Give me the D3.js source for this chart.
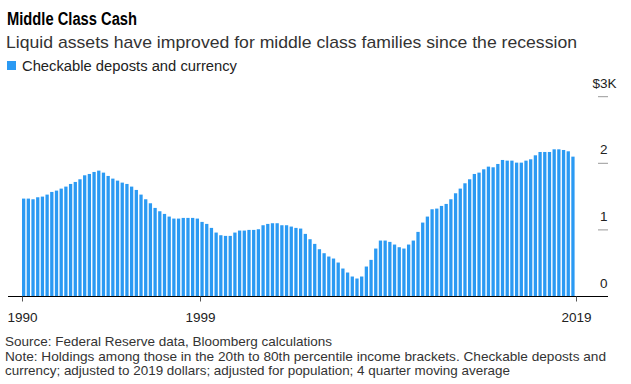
<!DOCTYPE html>
<html><head><meta charset="utf-8">
<script src="https://cdn.jsdelivr.net/npm/d3@7"></script>
<style>
html,body{margin:0;padding:0;background:#fff;}
svg{display:block;font-family:"Liberation Sans",Arial,Helvetica,sans-serif;}
</style></head>
<body><svg id="c" width="631" height="384"></svg>
<script>
// ---- data ----
const startYear = 1990, startQuarter = 1;
const values = [
1.47,1.47,1.46,1.49,1.50,1.53,1.57,1.59,1.62,1.65,1.69,1.72,1.76,1.82,1.84,1.87,1.89,1.86,1.81,1.77,
1.74,1.71,1.69,1.65,1.60,1.53,1.46,1.40,1.33,1.28,1.24,1.20,1.17,1.17,1.18,1.18,1.18,1.17,1.12,1.09,
1.03,0.96,0.92,0.91,0.91,0.96,0.99,0.99,1.00,1.00,1.01,1.07,1.09,1.10,1.10,1.07,1.07,1.05,1.03,1.02,
0.94,0.86,0.79,0.71,0.65,0.60,0.57,0.51,0.42,0.36,0.30,0.27,0.30,0.45,0.55,0.72,0.84,0.84,0.82,0.78,
0.74,0.72,0.78,0.84,0.97,1.11,1.20,1.31,1.32,1.36,1.39,1.46,1.55,1.62,1.70,1.76,1.84,1.86,1.91,1.95,
1.94,1.99,2.05,2.04,2.04,2.01,2.01,2.04,2.06,2.12,2.17,2.17,2.17,2.21,2.21,2.20,2.18,2.10
];
const quarters = values.map((v, i) => {
  const q = startQuarter - 1 + i;
  return `${startYear + Math.floor(q / 4)} Q${(q % 4) + 1}`;
});
const xTickQuarters = ["1990 Q1", "1999 Q3", "2019 Q3"];
const xTickLabels = ["1990", "1999", "2019"];
const yTicks = [0, 1, 2, 3];
const yTickLabels = ["0", "1", "2", "3K"];
const seriesName = "Checkable deposts and currency";
const title = "Middle Class Cash";
const subtitle = "Liquid assets have improved for middle class families since the recession";
const footer = [
  "Source: Federal Reserve data, Bloomberg calculations",
  "Note: Holdings among those in the 20th to 80th percentile income brackets. Checkable deposts and",
  "currency; adjusted to 2019 dollars; adjusted for population; 4 quarter moving average"
];

// ---- layout ----
const svg = d3.select("#c");
const blue = "#2b9af3";
const x = d3.scaleLinear().domain([0, values.length]).range([22, 576]);
const y = d3.scaleLinear().domain([0, 3]).range([296.5, 96.7]);
const qIndex = s => { const [yr, q] = s.split(" Q"); return (+yr - startYear) * 4 + (+q - startQuarter); };

function fitText(sel, w) { sel.attr("textLength", w).attr("lengthAdjust", "spacingAndGlyphs"); return sel; }

fitText(svg.append("text").attr("x", 7).attr("y", 25).attr("font-size", 17.5).attr("font-weight", "bold")
  .attr("fill", "#000").text(title), 130);
fitText(svg.append("text").attr("x", 6).attr("y", 48).attr("font-size", 17).attr("fill", "#333").text(subtitle), 571);
svg.append("rect").attr("x", 7).attr("y", 61).attr("width", 9).attr("height", 9).attr("fill", blue);
fitText(svg.append("text").attr("x", 22).attr("y", 71).attr("font-size", 14).attr("fill", "#222").text(seriesName), 215);

// bars
const pitch = x(1) - x(0);
svg.append("g").selectAll("rect").data(values).join("rect")
  .attr("x", (d, i) => x(i))
  .attr("width", pitch * 0.7)
  .attr("y", d => y(d))
  .attr("height", d => y(0) - y(d))
  .attr("fill", blue);

// y ticks
const yg = svg.append("g");
yTicks.forEach((t, i) => {
  if (t > 0) yg.append("line").attr("x1", 598).attr("x2", 608).attr("y1", y(t)).attr("y2", y(t))
    .attr("stroke", "#999").attr("stroke-width", 1);
  yg.append("text").attr("x", 600).attr("y", y(t) - 9).attr("font-size", 13.5).attr("fill", "#222")
    .text(yTickLabels[i]);
  if (i === yTicks.length - 1)
    yg.append("text").attr("x", 600).attr("y", y(t) - 9).attr("font-size", 13.5).attr("fill", "#222")
      .attr("text-anchor", "end").text("$");
});

// x axis
svg.append("line").attr("x1", 8).attr("x2", 608).attr("y1", y(0)).attr("y2", y(0))
  .attr("stroke", "#000").attr("stroke-width", 1);
xTickQuarters.forEach((q, i) => {
  const px = Math.round(x(qIndex(q))) + 0.5;
  svg.append("line").attr("x1", px).attr("x2", px).attr("y1", y(0)).attr("y2", y(0) + 5)
    .attr("stroke", "#555").attr("stroke-width", 1);
  svg.append("text").attr("x", px).attr("y", 322).attr("text-anchor", "middle").attr("font-size", 13.5)
    .attr("fill", "#222").text(xTickLabels[i]);
});

const footerWidths = [327, 601, 505];
footer.forEach((s, i) => {
  fitText(svg.append("text").attr("x", 5).attr("y", 346 + i * 14.5).attr("font-size", 13.2).attr("fill", "#333").text(s), footerWidths[i]);
});
</script></body></html>
